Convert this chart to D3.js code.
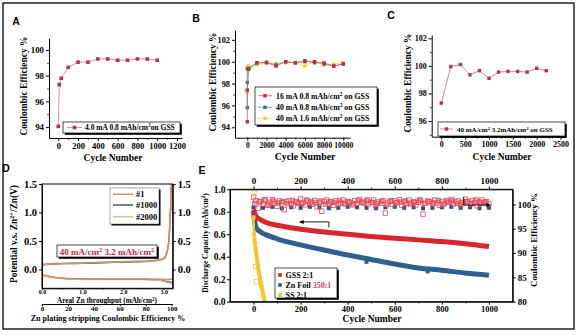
<!DOCTYPE html>
<html><head><meta charset="utf-8">
<script src="https://cdn.jsdelivr.net/npm/d3@7"></script>
<style>
body{margin:0;background:#fff}
svg{display:block}
text{font-family:"Liberation Serif",serif;font-weight:bold;fill:#000}
</style>
</head><body><svg id="c" width="579" height="335" font-family="Liberation Serif"></svg>
<script>
// ---------------- DATA ----------------
// Panel A
const aCycles=[0,10,30,100,200,300,400,500,600,700,800,900,1000];
const aCE=[94.05,97.3,97.8,98.65,99.05,99.05,99.3,99.3,99.2,99.2,99.3,99.3,99.2];
const aXTicks=[0,200,400,600,800,1000,1200];
const aYTicks=[94,96,98,100];
// Panel B
const bCycles16=[0,1,150,1000,2000,3000,4000,5000,6000,7000,8000,9000,10000];
const bCE16=[94.5,97.4,99.3,99.9,99.9,99.6,100.0,99.9,100.0,100.0,99.8,99.6,99.8];
const bCycles40a=[0,1,2,150,1000,2000,3000,4000,5000,6000,7000,8000,9000,10000];
const bCE40a=[95.8,98.1,99.35,99.4,99.9,99.95,99.7,100.0,99.9,100.1,99.9,99.9,99.6,99.8];
const bCycles40b=[0,1,150,1000,2000,3000,4000,5000,6000,7000,8000,9000,10000];
const bCE40b=[97.2,99.6,99.6,99.7,99.9,99.85,99.9,99.9,99.6,100.0,99.7,99.8,99.9];
const bXTicks=[0,2000,4000,6000,8000,10000];
const bYTicks=[94,96,98,100,102];
// Panel C
const cCycles=[0,200,400,600,800,1000,1200,1400,1600,1800,2000,2200];
const cCE=[97.3,99.95,100.1,99.35,99.65,99.1,99.55,99.6,99.6,99.55,99.82,99.65];
const cXTicks=[0,500,1000,1500,2000,2500];
const cYTicks=[96,98,100,102];
// Panel D (x: areal Zn throughput, y: potential)
const dStrip1=[[0,0.095],[0.3,0.105],[0.8,0.115],[1.3,0.125],[1.8,0.135],[2.3,0.145],[2.7,0.155],[2.9,0.17],[3.0,0.2],[3.06,0.27],[3.1,0.38],[3.13,0.55],[3.15,0.8],[3.17,1.1],[3.19,1.5]];
const dStrip1000=[[0,0.08],[0.3,0.095],[0.8,0.105],[1.3,0.115],[1.8,0.125],[2.3,0.135],[2.7,0.15],[2.9,0.165],[3.0,0.19],[3.06,0.26],[3.1,0.37],[3.13,0.54],[3.15,0.8],[3.17,1.1],[3.19,1.5]];
const dStrip2000=[[0,0.085],[0.3,0.1],[0.8,0.11],[1.3,0.12],[1.8,0.13],[2.3,0.14],[2.7,0.152],[2.9,0.168],[3.0,0.195],[3.06,0.265],[3.1,0.375],[3.13,0.545],[3.15,0.8],[3.17,1.1],[3.19,1.5]];
const dPlate1=[[0,-0.09],[0.2,-0.12],[0.5,-0.15],[0.8,-0.165],[1.2,-0.17],[2,-0.17],[2.8,-0.17],[3.0,-0.175],[3.22,-0.17]];
const dPlate1000=[[0,-0.1],[0.2,-0.13],[0.5,-0.155],[0.8,-0.168],[1.5,-0.172],[2.5,-0.172],[2.85,-0.18],[3.0,-0.2],[3.22,-0.23]];
const dPlate2000=[[0,-0.105],[0.2,-0.135],[0.5,-0.16],[0.8,-0.17],[1.5,-0.175],[2.5,-0.175],[2.85,-0.185],[3.0,-0.21],[3.22,-0.25]];
const dYTicks=[0,0.5,1.0,1.5];
const dXTicks=[0,1,2,3];
const dCETicks=[0,20,40,60,80,100];
const dLegend=["#1","#1000","#2000"];
// Panel E
const eCycles=[0,10,30,60,100,200,300,400,500,600,700,800,900,1000];
const eGSSCap=[0.82,0.76,0.73,0.70,0.68,0.645,0.62,0.60,0.58,0.565,0.55,0.535,0.515,0.49];
const eZnCap=[0.80,0.66,0.62,0.59,0.56,0.505,0.46,0.415,0.375,0.335,0.30,0.28,0.255,0.235];
const eSSCycles=[0,2,4,6,8,10,12,14,16,18,20,22,24,26,28,30,32,34,36,38,40,42,44,46];
const eSSCap=[0.75,0.6,0.55,0.52,0.48,0.45,0.42,0.39,0.36,0.33,0.3,0.27,0.25,0.22,0.2,0.17,0.15,0.13,0.12,0.1,0.07,0.05,0.03,0.01];
const eGSSCE=[101.5,100.8,99.2,100.6,100.1,100.9,99.8,100.4,101.0,100.2,99.6,100.7,100.3,98.9,100.5,100.8,100.1,99.7,100.6,100.2,
  101.1,100.4,99.9,100.7,100.3,100.0,100.8,99.5,100.4,98.6,100.6,100.9,100.2,100.5,99.8,100.7,100.1,100.3,100.9,100.1,
  100.6,100.4,99.9,100.8,100.2,101.0,100.5,100.3,100.7,100.1,100.4,100.9,99.7,100.5,100.2,100.8,98.2,100.3,100.6,100.0,
  100.7,100.4,101.0,99.8,100.5,100.2,100.9,100.3,100.6,99.9,100.4,100.8,98.0,100.2,100.7,100.5,100.1,100.9,100.3,99.8,
  100.6,100.2,100.8,100.4,101.0,100.1,100.5,100.7,99.9,100.3,101.1,100.6,100.2,100.8,100.4,99.7,100.5,100.9,100.3,100.6,100.1];
const eGSSCE2=[100.2,100.5,100.9,100.0,100.7,100.3,100.6,100.1,100.8,100.4,100.2,100.9,100.5,100.3,100.7,100.0,100.6,100.4,100.8,100.2,
  100.5,100.1,100.7,100.3,100.9,100.4,100.2,100.6,100.0,100.8,100.3,100.5,100.7,100.1,100.4,100.9,100.2,100.6,100.3,100.8,
  100.0,100.5,100.7,100.2,100.4,100.6,100.1,100.9,100.3,100.5];
const eZnCE=[99.4,99.3,99.5,99.2,99.4,99.3,99.5,99.4,99.2,99.3,99.5,99.4,99.3,99.2,99.4,99.5,99.3,99.4,99.2,99.3,99.4,99.5,99.3,99.4,99.2,99.3];
const eSSCEc=[2,4,6,9,12];
const eSSCE=[97.5,102.3,96.0,87.2,84.1];
const eXTicks=[0,200,400,600,800,1000];
const eYLTicks=[0,0.2,0.4,0.6,0.8,1.0];
const eYRTicks=[80,85,90,95,100];
const eLegend=["GSS 2:1","Zn Foil ","SS 2:1"];

// ---------------- DRAW ----------------
const FONT='"Liberation Serif", "Times New Roman", serif';
const svg=d3.select('#c');
svg.append('rect').attr('width',579).attr('height',335).attr('fill','#fff');
svg.append('rect').attr('x',3).attr('y',3).attr('width',571).attr('height',326)
  .attr('fill','none').attr('stroke','#000').attr('stroke-width',1.3);

function styleAxis(g,fs){
  g.attr('font-family',FONT);
  g.select('.domain').attr('stroke','#000').attr('stroke-width',1);
  g.selectAll('.tick line').attr('stroke','#000').attr('stroke-width',1);
  g.selectAll('.tick text').attr('fill','#000')
   .style('font-size',fs+'px').style('font-family',FONT).style('font-weight','bold');
  return g;
}
function minor(g,axisGen,vals,size){
  const m=g.append('g').call(axisGen.tickValues(vals).tickSize(size).tickSizeOuter(0).tickFormat(''));
  m.select('.domain').remove();
  m.selectAll('.tick line').attr('stroke','#000').attr('stroke-width',0.8);
}
function label(t,x,y,fs,opts={}){
  const el=svg.append('text').attr('x',x).attr('y',y).attr('text-anchor',opts.anchor||'middle')
    .style('font-size',fs+'px').style('font-weight','bold')
    .style('font-family',opts.sans?'"Liberation Sans",Arial,sans-serif':FONT);
  if(opts.rot) el.attr('transform',`rotate(${opts.rot},${x},${y})`);
  if(opts.fill) el.style('fill',opts.fill);
  return el;
}
function addText(el,parts){
  parts.forEach(p=>{
    const ts=el.append('tspan').text(p.t);
    if(p.sup){ts.attr('baseline-shift','super').style('font-size','70%');}
    if(p.fill) ts.style('fill',p.fill);
  });
  return el;
}
function legendBox(x,y,w,h){
  svg.append('rect').attr('x',x+1.8).attr('y',y+1.8).attr('width',w).attr('height',h).attr('fill','#000');
  svg.append('rect').attr('x',x).attr('y',y).attr('width',w).attr('height',h).attr('fill','#fff').attr('stroke','#000').attr('stroke-width',0.7);
}
function series(xs,ys,xS,yS,col,lineCol,sz){
  const pts=xs.map((c,i)=>[xS(c),yS(ys[i])]);
  svg.append('path').attr('d',d3.line()(pts)).attr('fill','none').attr('stroke',lineCol).attr('stroke-width',0.8);
  svg.append('g').selectAll('rect').data(pts).join('rect')
    .attr('x',d=>d[0]-sz/2).attr('y',d=>d[1]-sz/2).attr('width',sz).attr('height',sz).attr('fill',col);
}
function sq(x,y,col,sz){svg.append('rect').attr('x',x-sz/2).attr('y',y-sz/2).attr('width',sz).attr('height',sz).attr('fill',col);}
const fmtInt=d3.format('d');

// ---- Panel A ----
{
const x=d3.scaleLinear([-94,1251],[49,182]);
const y=d3.scaleLinear([93.15,100.93],[138,38]);
const gx=svg.append('g').attr('transform','translate(0,138)');
gx.call(d3.axisBottom(x).tickValues(aXTicks).tickFormat(fmtInt).tickSize(3).tickSizeOuter(0).tickPadding(2)); styleAxis(gx,8.5);
minor(gx,d3.axisBottom(x),[100,300,500,700,900,1100],1.8);
const gy=svg.append('g').attr('transform','translate(49,0)');
gy.call(d3.axisLeft(y).tickValues(aYTicks).tickSize(3).tickSizeOuter(0).tickPadding(2)); styleAxis(gy,8.8);
minor(gy,d3.axisLeft(y),[95,97,99],1.8);
series(aCycles,aCE,x,y,'#b8304c','#d9708a',3.6);
legendBox(63,122,117,11);
svg.append('line').attr('x1',67).attr('x2',82).attr('y1',127.5).attr('y2',127.5).attr('stroke','#d9708a').attr('stroke-width',0.8);
sq(74.5,127.5,'#b8304c',3.6);
addText(label('',85,130.3,7.5,{anchor:'start'}),[{t:'4.0 mA  0.8 mAh/cm'},{t:'2',sup:1},{t:'on GSS'}]);
label('',27,86,9.5,{rot:-90}).text('Coulombic Efficiency %');
label('',113,161,9.5).text('Cycle Number');
label('',16,25,10.5,{sans:1}).text('A');
}
// ---- Panel B ----
{
const x=d3.scaleLinear([-1281,10698],[235,350]);
const y=d3.scaleLinear([93.05,102.9],[137.7,30]);
const gx=svg.append('g').attr('transform','translate(0,137.7)');
gx.call(d3.axisBottom(x).tickValues(bXTicks).tickFormat(fmtInt).tickSize(3).tickSizeOuter(0).tickPadding(2)); styleAxis(gx,7.6);
minor(gx,d3.axisBottom(x),[1000,3000,5000,7000,9000],1.8);
const gy=svg.append('g').attr('transform','translate(235,0)');
gy.call(d3.axisLeft(y).tickValues(bYTicks).tickSize(3).tickSizeOuter(0).tickPadding(2)); styleAxis(gy,8.3);
minor(gy,d3.axisLeft(y),[95,97,99,101],1.8);
series(bCycles40b,bCE40b,x,y,'#eccf48','#eed870',3.4);
series(bCycles40a,bCE40a,x,y,'#2d7a72','#5b9890',3.4);
series(bCycles16,bCE16,x,y,'#c72a3a','#d86070',3.4);
legendBox(255,87,122,38);
const rows=[[95.7,'#c72a3a','#d86070','16 mA 0.8 mAh/cm'],[107.3,'#2d7a72','#5b9890','40 mA 0.8 mAh/cm'],[118.3,'#eccf48','#eed870','40 mA 1.6 mAh/cm']];
rows.forEach(r=>{
  svg.append('line').attr('x1',258).attr('x2',272).attr('y1',r[0]).attr('y2',r[0]).attr('stroke',r[2]).attr('stroke-width',0.8);
  sq(265,r[0],r[1],3.4);
  addText(label('',276,r[0]+2.8,7.8,{anchor:'start'}),[{t:r[3]},{t:'2',sup:1},{t:' on GSS'}]);
});
label('',216,82,9.5,{rot:-90}).text('Coulombic Efficiency %');
label('',305,160,9.8).text('Cycle Number');
label('',196,22,10.5,{sans:1}).text('B');
}
// ---- Panel C ----
{
const x=d3.scaleLinear([-201,2594],[431.7,565]);
const y=d3.scaleLinear([94.86,102.24],[136.7,35]);
const gx=svg.append('g').attr('transform','translate(0,136.7)');
gx.call(d3.axisBottom(x).tickValues(cXTicks).tickFormat(fmtInt).tickSize(3).tickSizeOuter(0).tickPadding(2)); styleAxis(gx,8);
minor(gx,d3.axisBottom(x),[250,750,1250,1750,2250],1.8);
const gy=svg.append('g').attr('transform','translate(431.7,0)');
gy.call(d3.axisLeft(y).tickValues(cYTicks).tickSize(3).tickSizeOuter(0).tickPadding(2)); styleAxis(gy,8);
minor(gy,d3.axisLeft(y),[95,97,99,101],1.8);
series(cCycles,cCE,x,y,'#b8304c','#b87070',3.4);
legendBox(438,122,127,14);
svg.append('line').attr('x1',440).attr('x2',453).attr('y1',129).attr('y2',129).attr('stroke','#b87070').attr('stroke-width',0.8);
sq(446.5,129,'#b8304c',3.4);
addText(label('',457,131.6,7,{anchor:'start'}),[{t:'40 mA/cm'},{t:'2',sup:1},{t:' 3.2mAh/cm'},{t:'2',sup:1},{t:' on GSS'}]);
label('',411,83,9.5,{rot:-90}).text('Coulombic Efficiency %');
label('',502,160,9.5).text('Cycle Number');
label('',391,19,10.5,{sans:1}).text('C');
}
// ---- Panel D ----
{
const x=d3.scaleLinear([0,3.22],[42,172.7]);
const y=d3.scaleLinear([-0.33,1.5],[288.3,184]);
svg.append('defs').append('clipPath').attr('id','clipD').append('rect').attr('x',42).attr('y',184).attr('width',130.7).attr('height',104.3);
const gL=svg.append('g').attr('clip-path','url(#clipD)');
const line=d3.line().x(d=>x(d[0])).y(d=>y(d[1])).curve(d3.curveMonotoneX);
const cols={'#1':'#c98a78','#1000':'#454a5e','#2000':'#d9c274'};
[[dPlate1000,'#1000'],[dStrip1000,'#1000'],[dPlate2000,'#2000'],[dStrip2000,'#2000'],[dPlate1,'#1'],[dStrip1,'#1']].forEach(s=>{
  gL.append('path').attr('d',line(s[0])).attr('fill','none').attr('stroke',cols[s[1]]).attr('stroke-width',1.4);
});
svg.append('rect').attr('x',42).attr('y',184).attr('width',130.7).attr('height',104.3).attr('fill','none').attr('stroke','#000').attr('stroke-width',1);
const gy=svg.append('g').attr('transform','translate(42,0)');
gy.call(d3.axisLeft(y).tickValues(dYTicks).tickSize(3).tickSizeOuter(0).tickPadding(2).tickFormat(d3.format('.1f'))); styleAxis(gy,10.5);
const gr=svg.append('g').attr('transform','translate(172.7,0)');
gr.call(d3.axisRight(y).tickValues(dYTicks).tickSize(3).tickSizeOuter(0).tickPadding(2).tickFormat(d3.format('.1f'))); styleAxis(gr,10.5);
const gx=svg.append('g').attr('transform','translate(0,288.3)');
gx.call(d3.axisBottom(x).tickValues(dXTicks).tickSize(1.5).tickSizeOuter(0).tickPadding(0)); styleAxis(gx,6);
minor(gx,d3.axisBottom(x),[0.5,1.5,2.5],1);
const x2=d3.scaleLinear([0,100],[42,171.7]);
const g2=svg.append('g').attr('transform','translate(0,304)');
g2.call(d3.axisBottom(x2).tickValues(dCETicks).tickSize(2.2).tickSizeOuter(0).tickPadding(0)); styleAxis(g2,7);
// legend
svg.append('rect').attr('x',111.5).attr('y',189.5).attr('width',49).attr('height',36).attr('fill','#000');
svg.append('rect').attr('x',110).attr('y',188).attr('width',49).attr('height',36).attr('fill','#fff').attr('stroke','#555').attr('stroke-width',0.5);
const ly=[194.3,205,216.7];
dLegend.forEach((n,i)=>{
  svg.append('line').attr('x1',113).attr('x2',133).attr('y1',ly[i]).attr('y2',ly[i]).attr('stroke',cols[n]).attr('stroke-width',1.4);
  label('',136,ly[i]+3,8.5,{anchor:'start'}).text(n);
});
legendBox(57,245,100,12);
addText(label('',107,254.5,9,{fill:'#c8283e'}),[{t:'40 mA/cm'},{t:'2',sup:1},{t:' 3.2 mAh/cm'},{t:'2',sup:1}]);
addText(label('',17,234,9.3,{rot:-90}),[{t:'Potential  v.s. Zn'},{t:'2+',sup:1},{t:'/Zn(V)'}]);
addText(label('',107,302.6,7.2),[{t:'Areal Zn throughput (mAh/cm'},{t:'2',sup:1},{t:')'}]);
label('',108,320.5,8).text('Zn plating stripping Coulombic Efficiency %');
label('',6,172,10.5,{sans:1}).text('D');
}
// ---- Panel E ----
{
const x=d3.scaleLinear([-100,1101],[230,512.7]);
const yL=d3.scaleLinear([0,1],[301.7,189.3]);
const yR=d3.scaleLinear([80,103.1],[301.7,189.3]);
svg.append('defs').append('clipPath').attr('id','clipE').append('rect').attr('x',230).attr('y',189.3).attr('width',282.7).attr('height',112.4);
const g=svg.append('g').attr('clip-path','url(#clipE)');
// CE points
g.append('g').selectAll('rect').data(eZnCE).join('rect')
  .attr('x',(d,i)=>x(i*40)-2).attr('y',d=>yR(d)-2).attr('width',4).attr('height',4).attr('fill','#2f4f86');
g.append('g').selectAll('rect').data(eGSSCE2).join('rect')
  .attr('x',(d,i)=>x(5+i*20)-2.2).attr('y',d=>yR(d)-2.2).attr('width',4.4).attr('height',4.4)
  .attr('fill','#f3b9bf').attr('stroke','#e0505e').attr('stroke-width',0.8);
g.append('g').selectAll('rect').data(eGSSCE).join('rect')
  .attr('x',(d,i)=>x(i*10)-2.2).attr('y',d=>yR(d)-2.2).attr('width',4.4).attr('height',4.4)
  .attr('fill','none').attr('stroke','#e04a58').attr('stroke-width',0.8);
g.append('g').selectAll('rect').data(eSSCE).join('rect')
  .attr('x',(d,i)=>x(eSSCEc[i])-2.2).attr('y',d=>yR(d)-2.2).attr('width',4.4).attr('height',4.4)
  .attr('fill','none').attr('stroke','#f0c850').attr('stroke-width',0.8);
// capacity lines
const lc=d3.line().x(d=>x(d[0])).y(d=>yL(d[1])).curve(d3.curveMonotoneX);
g.append('path').attr('d',lc(eCycles.map((c,i)=>[c,eZnCap[i]]))).attr('fill','none').attr('stroke','#2f5f8f').attr('stroke-width',5);
g.append('path').attr('d',lc(eCycles.map((c,i)=>[c,eGSSCap[i]]))).attr('fill','none').attr('stroke','#d8262e').attr('stroke-width',5);
g.append('rect').attr('x',x(480)-2).attr('y',yL(0.355)-2).attr('width',4).attr('height',4).attr('fill','#2f5f8f');
g.append('rect').attr('x',x(740)-2).attr('y',yL(0.27)-2).attr('width',4).attr('height',4).attr('fill','#2f5f8f');
g.append('path').attr('d',lc(eSSCycles.map((c,i)=>[c,eSSCap[i]]))).attr('fill','none').attr('stroke','#f2c52a').attr('stroke-width',2.5);
g.append('g').selectAll('rect').data(eSSCap).join('rect')
  .attr('x',(d,i)=>x(eSSCycles[i])-2).attr('y',d=>yL(d)-2).attr('width',4).attr('height',4).attr('fill','#f2c52a');
// arrows
const a1y=yL(0.71), a1x0=x(192), a1x1=x(320);
svg.append('path').attr('d',`M${a1x1},${a1y+5.5}V${a1y}H${a1x0+4}`).attr('fill','none').attr('stroke','#000').attr('stroke-width',0.9);
svg.append('path').attr('d',`M${a1x0},${a1y}l5,-2v4z`).attr('fill','#000');
const a2y=yL(0.86), a2x0=x(893), a2x1=x(1010);
svg.append('path').attr('d',`M${a2x0},${a2y-8}V${a2y}H${a2x1-4}`).attr('fill','none').attr('stroke','#000').attr('stroke-width',0.9);
svg.append('path').attr('d',`M${a2x1},${a2y}l-5,-2v4z`).attr('fill','#000');
svg.append('rect').attr('x',230).attr('y',189.3).attr('width',282.7).attr('height',112.4).attr('fill','none').attr('stroke','#000').attr('stroke-width',1);
// axes
const gb=svg.append('g').attr('transform','translate(0,301.7)');
gb.call(d3.axisBottom(x).tickValues(eXTicks).tickFormat(fmtInt).tickSize(3).tickSizeOuter(0).tickPadding(1)); styleAxis(gb,8.5);
minor(gb,d3.axisBottom(x),[100,300,500,700,900],1.8);
const gt=svg.append('g').attr('transform','translate(0,189.3)');
gt.call(d3.axisTop(x).tickValues(eXTicks).tickFormat(fmtInt).tickSize(3).tickSizeOuter(0).tickPadding(2)); styleAxis(gt,9);
minor(gt,d3.axisTop(x),[100,300,500,700,900],1.8);
const gl=svg.append('g').attr('transform','translate(230,0)');
gl.call(d3.axisLeft(yL).tickValues(eYLTicks).tickSize(3).tickSizeOuter(0).tickPadding(1.5).tickFormat(d3.format('.1f'))); styleAxis(gl,9.5);
const gr=svg.append('g').attr('transform','translate(512.7,0)');
gr.call(d3.axisRight(yR).tickValues(eYRTicks).tickSize(3).tickSizeOuter(0).tickPadding(2)); styleAxis(gr,9);
// legend
legendBox(275,268,62,30);
const lrows=[[275,'#d8262e'],[285,'#2f5f8f'],[295,'#f2c52a']];
lrows.forEach((r,i)=>{
  sq(280,r[0],r[1],3.6);
  const t=label('',285.5,r[0]+2.8,8,{anchor:'start'});
  if(i===1) addText(t,[{t:eLegend[i]},{t:'350:1',fill:'#d0405a'}]); else t.text(eLegend[i]);
});
addText(label('',207.5,243,7.5,{rot:-90}),[{t:'Discharge Capacity (mAh/cm'},{t:'2',sup:1},{t:')'}]);
label('',537,240,9,{rot:-90}).text('Coulombic  Efficiency %');
label('',372,321.5,9.5).text('Cycle Number');
label('',202,174,10.5,{sans:1}).text('E');
}
</script>
</body></html>
